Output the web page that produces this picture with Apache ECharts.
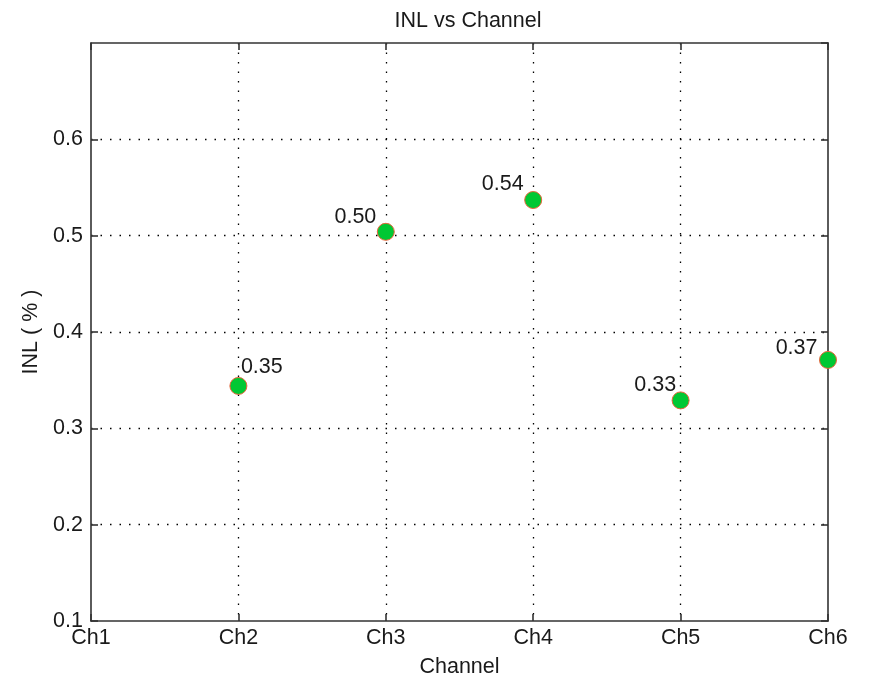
<!DOCTYPE html>
<html>
<head>
<meta charset="utf-8">
<script src="https://cdn.jsdelivr.net/npm/echarts@6/dist/echarts.min.js"></script>
<style>
  html, body { margin: 0; padding: 0; background: #fff; }
  #main { width: 872px; height: 683px; }
</style>
</head>
<body>
<div id="main"></div>
<script>
"use strict";

// 通道名称与 INL 数值
var channels = ['Ch1', 'Ch2', 'Ch3', 'Ch4', 'Ch5', 'Ch6'];
var channelIndex = [2, 3, 4, 5, 6];
var inlValues = [0.344, 0.504, 0.537, 0.329, 0.371];
var inlLabels = ['0.35', '0.50', '0.54', '0.33', '0.37'];

// 标签相对于点的摆放（样式）
var labelPos = [
    { position: [11.5, -9.5], align: 'left' },
    { position: [-0.5, -5.5], align: 'right' },
    { position: [-0.5, -6.5], align: 'right' },
    { position: [4.5, -6.5], align: 'right' },
    { position: [-1.5, -2.5], align: 'right' }
];

var textColor = '#1a1a1a';
var font = 'Liberation Sans, Arial, sans-serif';
var fs = 21.5;

var points = channelIndex.map(function (c, i) {
    return {
        value: [c, inlValues[i]],
        label: {
            show: true,
            formatter: inlLabels[i],
            position: labelPos[i].position,
            align: labelPos[i].align,
            verticalAlign: 'middle',
            color: textColor,
            fontFamily: font,
            fontSize: fs
        }
    };
});

var gridLine = {
    show: true, showMinLine: false, showMaxLine: false,
    lineStyle: { color: '#000', type: [1.5, 8], width: 1.3 }
};
var axisLine = { show: true, onZero: false, lineStyle: { color: '#333', width: 1.6 } };
var tick = { show: true, inside: true, length: 7, lineStyle: { color: '#333', width: 1.6 } };

var option = {
    backgroundColor: '#fff',
    animation: false,
    title: {
        text: 'INL vs Channel',
        left: 463, top: 5, textAlign: 'center',
        textStyle: { fontFamily: font, fontSize: fs, fontWeight: 'normal', color: textColor }
    },
    grid: { left: 91, top: 43, width: 737, height: 580 },
    xAxis: [{
        type: 'value', min: 1, max: 6, interval: 1,
        name: 'Channel', nameLocation: 'middle', nameGap: 35,
        nameTextStyle: { fontFamily: font, fontSize: fs, color: textColor },
        axisLine: axisLine,
        axisTick: tick,
        axisLabel: {
            fontFamily: font, fontSize: fs, color: textColor, margin: 6,
            formatter: function (v) { return channels[Math.round(v) - 1]; }
        },
        splitLine: gridLine
    }, {
        type: 'value', position: 'top', min: 1, max: 6, interval: 1,
        axisLine: axisLine,
        axisTick: tick,
        axisLabel: { show: false },
        splitLine: { show: false }
    }],
    yAxis: [{
        type: 'value', min: 0.1, max: 0.7, interval: 0.1,
        name: 'INL ( % )', nameLocation: 'middle', nameGap: 49,
        nameTextStyle: { fontFamily: font, fontSize: fs, color: textColor },
        axisLine: axisLine,
        axisTick: tick,
        axisLabel: {
            fontFamily: font, fontSize: fs, color: textColor, margin: 8,
            showMaxLabel: false,
            formatter: function (v) { return v.toFixed(1); }
        },
        splitLine: gridLine
    }, {
        type: 'value', position: 'right', min: 0.1, max: 0.7, interval: 0.1,
        axisLine: axisLine,
        axisTick: tick,
        axisLabel: { show: false },
        splitLine: { show: false }
    }],
    series: [{
        type: 'scatter',
        symbol: 'circle',
        symbolSize: 17,
        itemStyle: { color: '#00c833', borderColor: '#e8643a', borderWidth: 1, opacity: 1 },
        data: points
    }]
};

var chart = echarts.init(document.getElementById('main'));
chart.setOption(option);
</script>
</body>
</html>
